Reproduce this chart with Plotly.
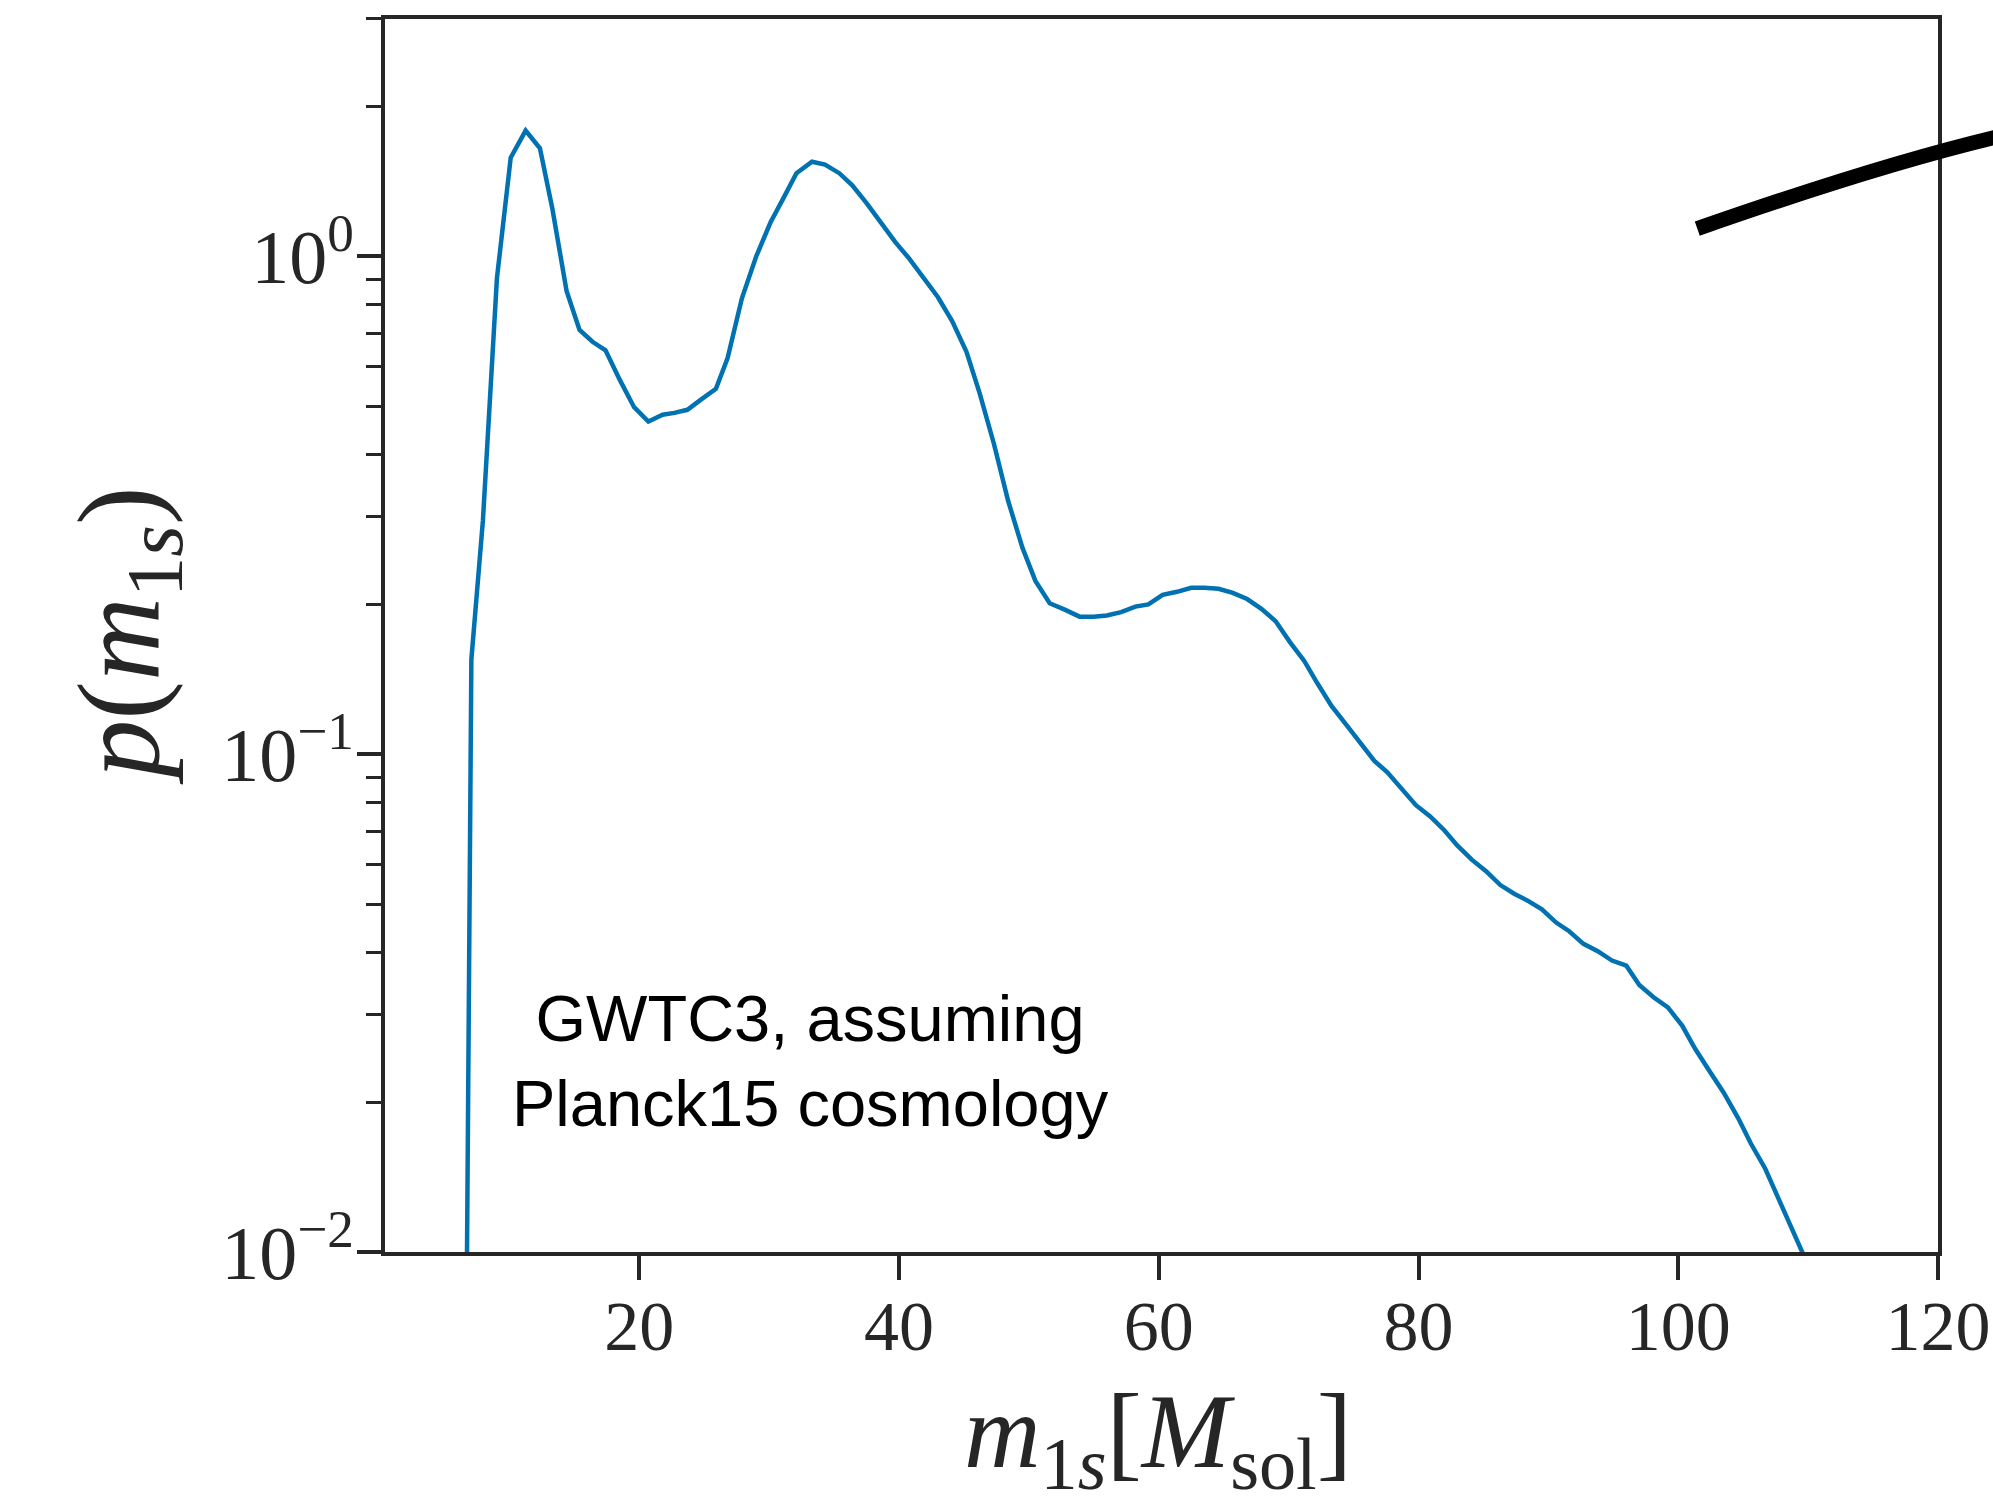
import plotly.graph_objects as go

# primary mass (source frame) [M_sol]
m1s = [6.65, 7.07, 7.96, 9.04, 10.1, 11.25, 12.35, 13.3, 14.4, 15.4, 16.4, 17.4, 18.5, 19.6,
       20.7, 21.8, 22.7, 23.7, 24.8, 25.9, 26.8, 27.9, 29.0, 30.1, 31.1, 32.1, 33.3, 34.3,
       35.4, 36.4, 37.5, 38.6, 39.7, 40.8, 41.9, 43.0, 44.1, 45.2, 46.2, 47.3, 48.4, 49.5,
       50.5, 51.6, 52.8, 53.9, 55.0, 56.0, 57.1, 58.2, 59.2, 60.3, 61.4, 62.5, 63.5, 64.6,
       65.7, 66.8, 67.9, 69.0, 70.1, 71.2, 72.2, 73.3, 74.4, 75.5, 76.6, 77.6, 78.7, 79.8,
       80.9, 82.0, 83.0, 84.1, 85.2, 86.3, 87.4, 88.4, 89.5, 90.6, 91.6, 92.7, 93.8, 94.9,
       96.0, 97.0, 98.1, 99.2, 100.3, 101.3, 102.4, 103.5, 104.6, 105.6, 106.7, 107.8,
       108.7, 110.0]
p_m1s = [0.005, 0.155, 0.295, 0.905, 1.58, 1.79, 1.65, 1.25, 0.853, 0.712, 0.674, 0.648,
         0.565, 0.498, 0.466, 0.481, 0.485, 0.492, 0.517, 0.542, 0.625, 0.824, 1.0, 1.17,
         1.31, 1.47, 1.55, 1.53, 1.47, 1.39, 1.28, 1.17, 1.07, 0.989, 0.905, 0.828, 0.741,
         0.643, 0.532, 0.421, 0.323, 0.26, 0.223, 0.201, 0.195, 0.189, 0.189, 0.19, 0.193,
         0.198, 0.2, 0.209, 0.212, 0.216, 0.216, 0.215, 0.211, 0.205, 0.196, 0.185, 0.168,
         0.154, 0.139, 0.125, 0.115, 0.106, 0.097, 0.092, 0.085, 0.079, 0.075, 0.0703,
         0.0655, 0.0614, 0.0582, 0.0546, 0.0524, 0.0508, 0.0488, 0.0459, 0.0441, 0.0416,
         0.0402, 0.0385, 0.0376, 0.0344, 0.0325, 0.031, 0.0285, 0.0256, 0.0231, 0.0209,
         0.0186, 0.0165, 0.0147, 0.0127, 0.0112, 0.0094]

x_ticks = [20, 40, 60, 80, 100, 120]
y_ticks = [0.01, 0.1, 1]
y_ticktext = ["10<sup>−2</sup>", "10<sup>−1</sup>", "10<sup>0</sup>"]
y_minor = [0.02, 0.03, 0.04, 0.05, 0.06, 0.07, 0.08, 0.09,
           0.2, 0.3, 0.4, 0.5, 0.6, 0.7, 0.8, 0.9, 2, 3]
x_title = "<i>m</i><sub>1<i>s</i></sub>[<i>M</i><sub>sol</sub>]"
y_title = "<i>p</i>(<i>m</i><sub>1<i>s</i></sub>)"

axcol = "#262626"
serif = "Liberation Serif"

fig = go.Figure()
fig.add_trace(go.Scatter(x=m1s, y=p_m1s, mode="lines",
                         line=dict(color="#0072B2", width=4.5), showlegend=False))

fig.update_layout(
    width=1993, height=1507,
    margin=dict(l=385, r=55, t=19, b=255),
    paper_bgcolor="white", plot_bgcolor="white",
    font=dict(family=serif, color=axcol),
    xaxis=dict(range=[0.42, 120], tickvals=x_ticks, ticks="outside", ticklen=24,
               tickwidth=4, tickcolor=axcol, showline=True, linewidth=4, linecolor=axcol,
               mirror=True, showgrid=False, zeroline=False, automargin=False,
               ticklabelstandoff=-14,
               tickfont=dict(family=serif, size=70, color=axcol)),
    yaxis=dict(type="log", range=[-2, 0.4771], tickvals=y_ticks, ticktext=y_ticktext,
               ticks="outside", ticklen=24, tickwidth=4, tickcolor=axcol,
               minor=dict(tickmode="array", tickvals=y_minor, ticks="outside",
                          ticklen=15, tickwidth=3, tickcolor=axcol, showgrid=False),
               showline=True, linewidth=4, linecolor=axcol, mirror=True,
               showgrid=False, zeroline=False, automargin=False,
               ticklabelstandoff=-12,
               tickfont=dict(family=serif, size=76, color=axcol)),
    annotations=[
        dict(text="GWTC3, assuming<br>Planck15 cosmology", xref="paper",
             yref="paper", x=0.274, y=0.155, xanchor="center", yanchor="middle",
             showarrow=False,
             font=dict(family="Liberation Sans", size=65, color="black"), align="center"),
        dict(text=x_title, xref="paper", yref="paper", x=0.498, y=-0.152,
             xanchor="center", yanchor="middle", showarrow=False,
             font=dict(family=serif, size=106, color=axcol)),
        dict(text=y_title, xref="paper", yref="paper", x=-0.166, y=0.5, textangle=-90,
             xanchor="center", yanchor="middle", showarrow=False,
             font=dict(family=serif, size=116, color=axcol)),
    ],
    shapes=[dict(type="path", xref="paper", yref="paper",
                 path="M 0.845,0.830 Q 0.963,0.882 1.04,0.905",
                 line=dict(color="black", width=15))],
)

fig.write_html("out.html")
